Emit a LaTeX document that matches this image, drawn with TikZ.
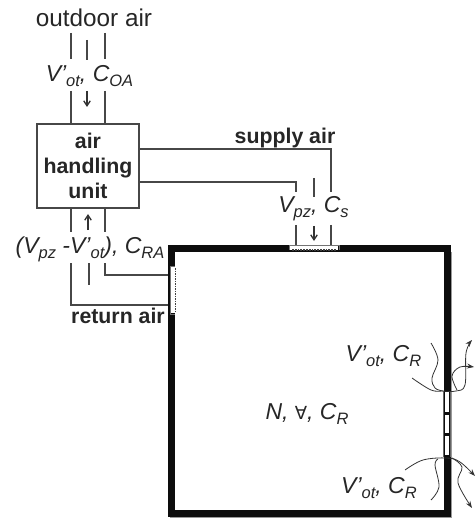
\documentclass[tikz,border=0pt]{standalone}
\usepackage{fontspec}
\setmainfont{Liberation Sans}
\newfontfamily\symfont{DejaVu Sans}
\usetikzlibrary{arrows.meta, positioning, calc}

\newcommand{\lowsub}[1]{\raisebox{-0.22em}{\fontsize{16.5}{16.5}\selectfont #1}}

\begin{document}
\begin{tikzpicture}[
    x=1pt, y=-1pt,
    every node/.style={inner sep=0pt, outer sep=0pt, text=black!85},
    duct/.style={line width=1.8pt, black!72},
    arrow/.style={-{Straight Barb[length=5pt, width=6.5pt]}, line width=1.3pt, black!80},
    stem/.style={line width=1.3pt, black!72},
    wall/.style={line width=7pt, black!95},
    flow/.style={line width=0.8pt, black!80},
    flowtip/.style={flow, -{Stealth[length=7pt, width=5pt]}},
    title/.style={font=\fontsize{24.3}{28}\selectfont},
    bold/.style={font=\fontsize{21.3}{25}\selectfont\bfseries, align=center},
    quantity/.style={font=\fontsize{23}{27}\selectfont\itshape}
]
\useasboundingbox (0,0) rectangle (475,518);

% ============ AIR HANDLING UNIT ============
\node[draw=black!72, line width=1.8pt, bold, minimum width=102pt, minimum height=84pt] (ahu) at (88,166) {air\\handling\\unit};

% Labels
\node[title] (outdoor) at (94,18) {outdoor air};
\node[quantity] (oalabel) at (89.5,76) {V’\lowsub{ot}, C\lowsub{OA}};
\node[quantity] (ralabel) at (90,249.5) {(V\lowsub{pz} -V’\lowsub{ot}), C\lowsub{RA}};
\node[quantity] (salabel) at (313.5,209) {V\lowsub{pz}, C\lowsub{s}};
\node[bold] (supply) at (285,138) {supply air};
\node[bold] (return) at (118,316) {return air};

% Outdoor air duct
\coordinate (oaL) at (71,33);
\coordinate (oaR) at (105,33);
\draw[duct] (oaL) -- (71,59) (71,91) -- (ahu.north -| oaL);
\draw[duct] (oaR) -- (105,59) (105,91) -- (ahu.north -| oaR);
\draw[stem] (87,40) -- (87,60);
\draw[arrow] (87,91) -- (87,107);

% Supply air duct
\coordinate (saL) at (296,192);
\coordinate (saR) at (331,192);
\draw[duct] (ahu.east |- 0,149) -- (331,149) -- (saR);
\draw[duct] (ahu.east |- 0,182) -- (296,182) -- (saL);
\draw[duct] (296,225) -- (296,245) (331,225) -- (331,245);
\draw[stem] (314,178) -- (314,197);
\draw[arrow] (314,226) -- (314,241);

% Return air duct
\coordinate (raL) at (71,263);
\coordinate (raR) at (105,263);
\draw[duct] (ahu.south -| raL) -- (71,232) (ahu.south -| raR) -- (105,232);
\draw[duct] (raL) -- (71,305) -- (169,305);
\draw[duct] (raR) -- (105,275) -- (169,275);
\draw[arrow] (88,230) -- (88,214);
\draw[stem] (89,263) -- (89,285);

% ============ ROOM ============
\draw[wall] (171.5,248) rectangle (447,513.5);

% Return opening
\fill[white] (170.5,267) rectangle (175,313);
\draw[black!55, line width=0.7pt] (175,266) -- (170.5,266) -- (170.5,314) -- (175,314);
\draw[black!75, line width=1.5pt, densely dotted] (175.5,268) -- (175.5,312);

% Supply opening
\fill[white] (290,245) rectangle (338,250);
\draw[black!55, line width=0.7pt] (289,250) -- (289,245) -- (339,245) -- (339,250);
\draw[black!75, line width=1.8pt, densely dotted] (292,250) -- (336,250);

% Leakage openings
\fill[white] (445,392) rectangle (449,412);
\fill[white] (445,415) rectangle (449,433);
\fill[white] (445,436) rectangle (449,455);
\draw[black!60, line width=0.7pt] (443.5,391) -- (443.5,457) (450.5,391) -- (450.5,457);
\draw[black!40, line width=0.5pt] (451.5,252) -- (451.5,517.5) -- (170,517.5);

% Room contents
\node[quantity] (room) at (307,414) {N, {\symfont\fontsize{18}{18}\selectfont ∀}, C\lowsub{R}};
\node[quantity] (leaktop) at (383.5,356) {V’\lowsub{ot}, C\lowsub{R}};
\node[quantity] (leakbot) at (379,488) {V’\lowsub{ot}, C\lowsub{R}};

% Air leaving at the top
\draw[flowtip] plot[smooth, tension=0.6] coordinates {(412,378) (431,390) (443,391) (456,391) (465,385) (466,353) (472,340)};
\draw[flow] plot[smooth, tension=0.6] coordinates {(431,343) (438,360) (432,378) (435,388) (443,391)};
\draw[flowtip] plot[smooth, tension=0.6] coordinates {(457,390) (452,376) (460,367) (474,367)};

% Air leaving at the bottom
\draw[flowtip] plot[smooth, tension=0.6] coordinates {(405,470) (423,460) (447,458) (460,462) (475,476)};
\draw[flow] plot[smooth, tension=0.6] coordinates {(431,500) (439,487) (435,465) (438,459)};
\draw[flowtip] plot[smooth, tension=0.6] coordinates {(452,458) (462,467) (458,483) (472,508)};

\end{tikzpicture}
\end{document}
